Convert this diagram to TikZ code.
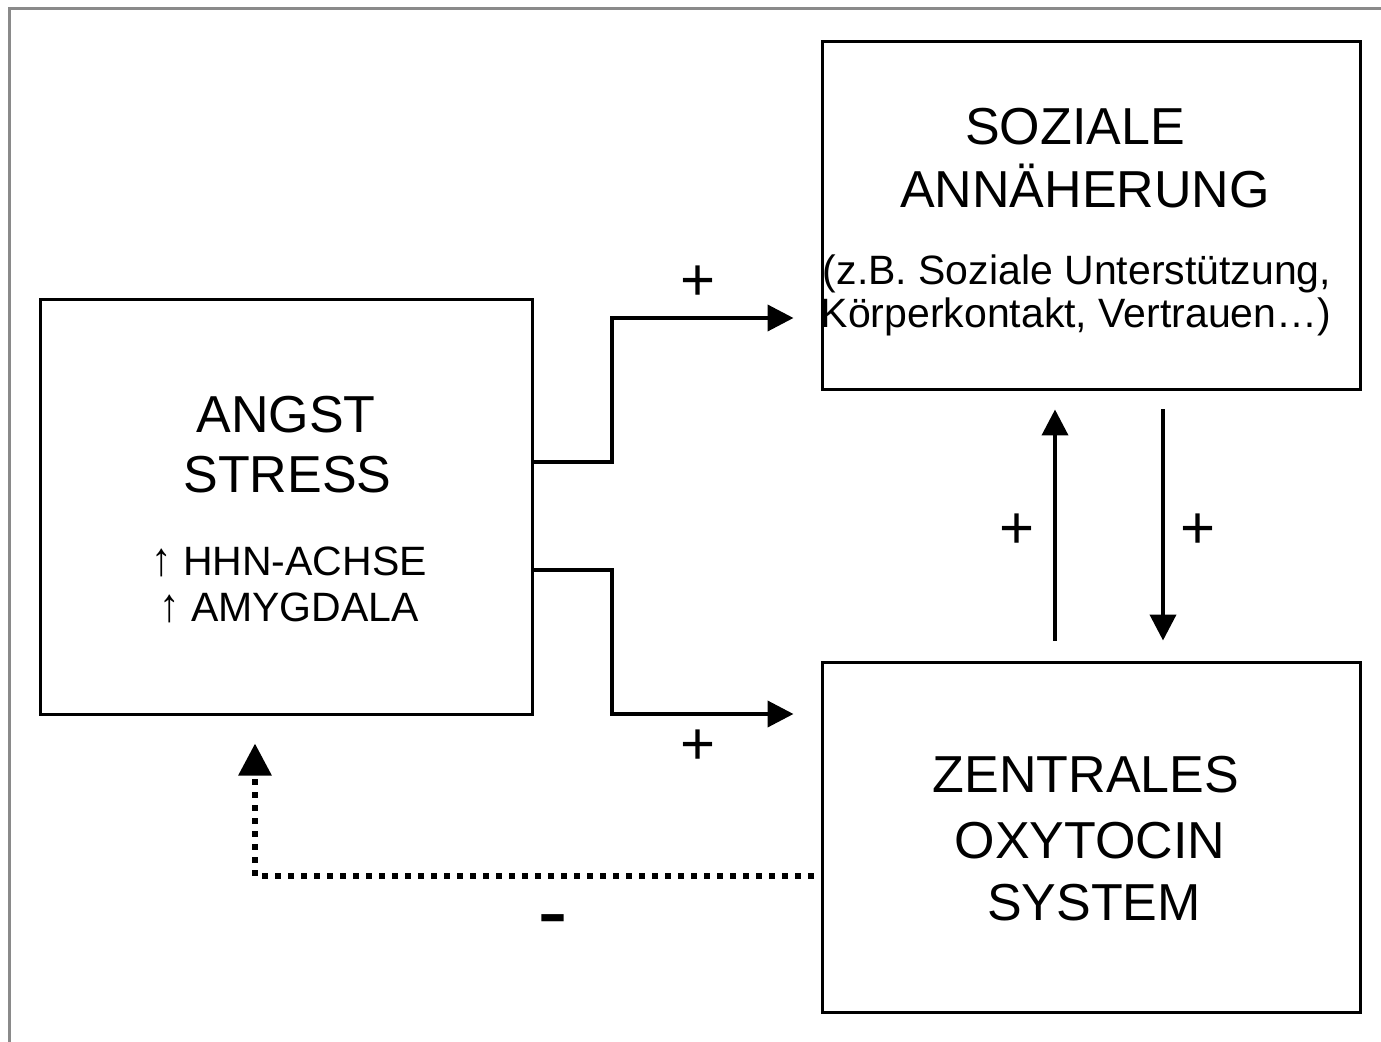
\documentclass[tikz,border=0pt]{standalone}
\usepackage{fontspec}
\setmainfont{Liberation Sans}
\usepackage{graphicx}
\usetikzlibrary{arrows.meta,calc}
\newcommand{\uparr}{\scalebox{1}[1.15]{↑}}
\tikzset{
  box/.style={draw=black, line width=1.5pt, inner sep=0pt, rectangle},
  conn/.style={line width=2pt, -{Triangle[length=13pt,width=13pt]}},
  dotconn/.style={line width=3pt, dash pattern=on 3pt off 3.5pt, -{Triangle[length=16pt,width=16pt]}},
  big/.style={font=\fontsize{26pt}{31.5pt}\selectfont, inner sep=0pt, anchor=base},
  small/.style={font=\fontsize{20.5pt}{22pt}\selectfont, inner sep=0pt, anchor=base},
  sign/.style={font=\fontsize{30pt}{30pt}\selectfont, inner sep=0pt},
  frameline/.style={draw=black!46, line width=1.5pt}
}
\begin{document}
\begin{tikzpicture}[x=0.5pt,y=-0.5pt]
\useasboundingbox (0,0) rectangle (1381,1042);
% outer gray frame (top and left)
\draw[frameline] (9,1042) -- (9,8.5) -- (1381,8.5);

% boxes
\node[box, minimum width=246pt, minimum height=207pt] (angst) at (286,507) {};
\node[box, minimum width=269pt, minimum height=174pt] (soz) at (1091,216) {};
\node[box, minimum width=269pt, minimum height=175pt] (zent) at (1091,837) {};

% texts
\node[big] (t1) at (1075,145) {SOZIALE};
\node[big] (t2) at (1085,208) {ANNÄHERUNG};
\node[small] (t3) at (1077,285) {(z.B. Soziale Unterstützung,};
\node[small] (t4) at (1076,328) {Körperkontakt, Vertrauen…)};

\node[big] (a1) at (286,433) {ANGST};
\node[big] (a2) at (287.5,493) {STRESS};
\node[small] (a3) at (289,575) {\uparr{} HHN-ACHSE};
\node[small] (a4) at (289,621) {\uparr{} AMYGDALA};

\node[big] (z1) at (1086,792) {ZENTRALES};
\node[big] (z2) at (1090,858) {OXYTOCIN};
\node[big] (z3) at (1094,920) {SYSTEM};

% connectors
\draw[conn] (angst.east |- 0,462) -- (612,462) -- (612,318) -- ([xshift=-13.5pt]soz.west |- 0,318);
\draw[conn] (angst.east |- 0,570) -- (612,570) -- (612,714) -- ([xshift=-13.5pt]zent.west |- 0,714);
\draw[conn] ([yshift=10pt]zent.north -| 1055,0) -- ([yshift=-9pt]soz.south -| 1055,0);
\draw[conn] ([yshift=-9pt]soz.south -| 1163,0) -- ([yshift=10pt]zent.north -| 1163,0);
\draw[dotconn] ([xshift=-3.5pt]zent.west |- 0,876) -- (255,876) -- ([yshift=-14pt]angst.south -| 255,0);

% signs
\node[sign] (p1) at (698,283) {+};
\node[sign] (p2) at (698,747) {+};
\node[sign] (p3) at (1017,531) {+};
\node[sign] (p4) at (1198,531) {+};
\node[inner sep=0pt, anchor=base, font=\fontsize{22.5pt}{22.5pt}\selectfont\bfseries] (m1) at (553.5,937) {\scalebox{1}[1.6]{–}};
\end{tikzpicture}
\end{document}
